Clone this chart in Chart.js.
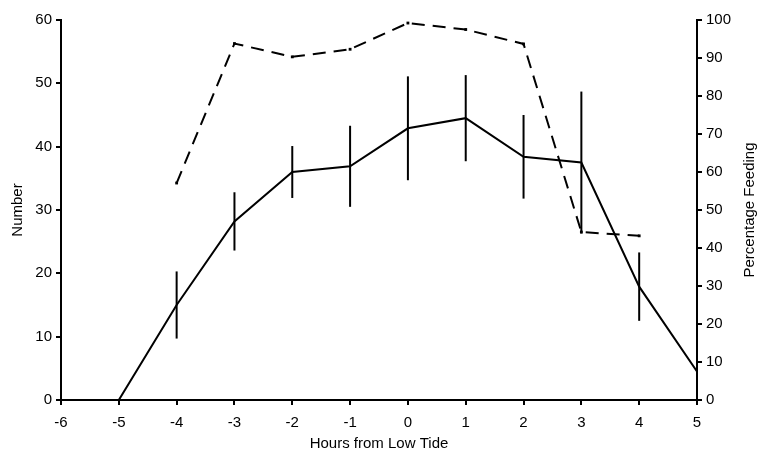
<!DOCTYPE html>
<html>
<head>
<meta charset="utf-8">
<script src="https://cdn.jsdelivr.net/npm/chart.js@4/dist/chart.umd.min.js"></script>
<style>
  html, body { margin: 0; padding: 0; background: #fff; }
  #c { display: block; }
</style>
</head>
<body>
<canvas id="c" width="760" height="457"></canvas>
<script>
// hours from low tide
var hours = [-6, -5, -4, -3, -2, -1, 0, 1, 2, 3, 4, 5];
// number (left axis), with error half-widths
var numberVals = [0, 0, 15.0, 28.2, 36.0, 36.9, 42.9, 44.5, 38.4, 37.5, 17.9, 4.5];
var numberErr  = [0, 0, 5.3, 4.6, 4.1, 6.4, 8.2, 6.8, 6.6, 11.2, 5.4, 4.0];
// percentage feeding (right axis), only from -4 to 4
var pctHours = [-4, -3, -2, -1, 0, 1, 2, 3, 4];
var pctVals  = [57.1, 93.8, 90.3, 92.3, 99.2, 97.5, 93.7, 44.2, 43.2];

var FONT = { family: "'Liberation Sans', Arial, sans-serif", size: 15 };

var numberData = hours.map(function (h, i) { return { x: h, y: numberVals[i] }; });
var pctData = pctHours.map(function (h, i) { return { x: h, y: pctVals[i] }; });

// vertical error bars on the number series
var errorBars = {
    id: 'errorBars',
    afterDatasetsDraw: function (chart) {
        var ctx = chart.ctx;
        var xs = chart.scales.x, ys = chart.scales.y;
        ctx.save();
        ctx.strokeStyle = '#000';
        ctx.lineWidth = 2;
        for (var i = 0; i < hours.length; i++) {
            if (!numberErr[i]) continue;
            var px = xs.getPixelForValue(hours[i]);
            var lo = Math.max(0, numberVals[i] - numberErr[i]);
            ctx.beginPath();
            ctx.moveTo(px, ys.getPixelForValue(numberVals[i] + numberErr[i]));
            ctx.lineTo(px, ys.getPixelForValue(lo));
            ctx.stroke();
        }
        ctx.restore();
    }
};

// right axis title reads bottom-to-top like the left one
var rightTitle = {
    id: 'rightTitle',
    afterDraw: function (chart) {
        var ctx = chart.ctx;
        var a = chart.chartArea;
        ctx.save();
        ctx.fillStyle = '#000';
        ctx.font = FONT.size + 'px ' + FONT.family;
        ctx.textAlign = 'center';
        ctx.textBaseline = 'middle';
        ctx.translate(750, (a.top + a.bottom) / 2);
        ctx.rotate(-Math.PI / 2);
        ctx.fillText('Percentage Feeding', 0, 0);
        ctx.restore();
    }
};

function axisGrid() {
    return { drawOnChartArea: false, drawTicks: true, tickLength: 5, color: '#000', lineWidth: 2 };
}

new Chart(document.getElementById('c').getContext('2d'), {
    type: 'line',
    data: {
        datasets: [{
            label: 'Number',
            data: numberData,
            yAxisID: 'y',
            borderColor: '#000',
            borderWidth: 2,
            pointRadius: 0,
            tension: 0,
            fill: false
        }, {
            label: 'Percentage Feeding',
            data: pctData,
            yAxisID: 'y1',
            borderColor: '#000',
            backgroundColor: '#000',
            borderWidth: 2,
            borderDash: [13, 8],
            pointStyle: 'rect',
            pointRadius: 2,
            pointBorderWidth: 0,
            tension: 0,
            fill: false
        }]
    },
    options: {
        responsive: false,
        animation: false,
        layout: { padding: { top: 20, right: 0, bottom: 0, left: 0 } },
        plugins: { legend: { display: false }, tooltip: { enabled: false } },
        scales: {
            x: {
                type: 'linear',
                min: -6, max: 5,
                grid: axisGrid(),
                border: { color: '#000', width: 2 },
                ticks: { stepSize: 1, color: '#000', font: FONT, padding: 9 },
                title: { display: true, text: 'Hours from Low Tide', color: '#000', font: FONT, padding: { top: 4, bottom: 4 } },
                afterFit: function (s) { s.height = 57; }
            },
            y: {
                position: 'left',
                min: 0, max: 60,
                grid: axisGrid(),
                border: { color: '#000', width: 2 },
                ticks: { stepSize: 10, color: '#000', font: FONT, padding: 4 },
                title: { display: true, text: 'Number', color: '#000', font: FONT, padding: { top: 9, bottom: 0 } },
                afterFit: function (s) { s.width = 61; }
            },
            y1: {
                position: 'right',
                min: 0, max: 100,
                grid: axisGrid(),
                border: { color: '#000', width: 2 },
                ticks: { stepSize: 10, color: '#000', font: FONT, padding: 4 },
                afterFit: function (s) { s.width = 63; }
            }
        }
    },
    plugins: [errorBars, rightTitle]
});
</script>
</body>
</html>
